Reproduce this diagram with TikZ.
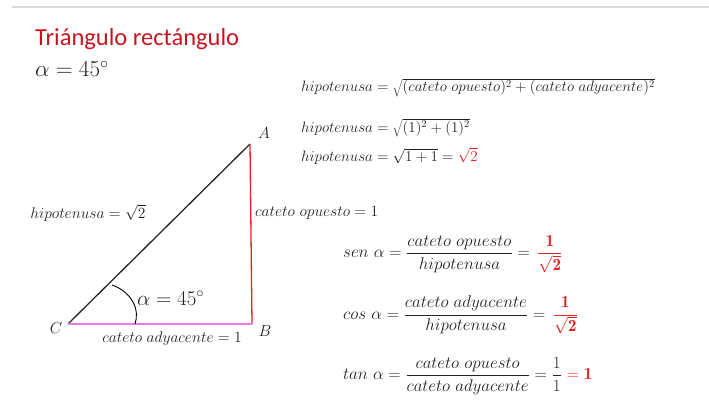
\RequirePackage{fix-cm}
\documentclass[tikz,border=0pt]{standalone}
\usepackage{fontspec}
\newfontfamily\titulofont{Carlito}
\usetikzlibrary{positioning}
\definecolor{rojotitulo}{RGB}{200,20,30}
\definecolor{rojo}{RGB}{225,35,35}
\definecolor{rosa}{RGB}{238,120,238}
\definecolor{tinta}{RGB}{35,35,35}

\begin{document}
\begin{tikzpicture}[x=1pt,y=-1pt,
	texto/.style={inner sep=0pt,text=tinta},
	formula/.style={texto,anchor=base west,font=\fontsize{15}{17}\selectfont},
	etiqueta/.style={texto,font=\fontsize{15.5}{17}\selectfont},
	razon/.style={texto,anchor=west,font=\fontsize{17}{19}\selectfont},
	vertice/.style={texto,font=\fontsize{16}{18}\selectfont}]
	    \useasboundingbox (0,0) rectangle (709,404);
	    \draw[black!15,line width=1.5pt] (12,7) -- (709,7);
	    % titulo
	    \node(titulo) [anchor=base west,inner sep=0pt,text=rojotitulo,font=\titulofont\fontsize{24.5}{28}\selectfont] at (35,46) {Triángulo rectángulo};
	    \node(angulo) [texto,anchor=base west,font=\fontsize{23}{26}\selectfont] at (35,77) {$\alpha = 45^\circ$};
	    % triangulo
	    \coordinate (C) at (68,324);
	    \coordinate (B) at (252,324);
	    \coordinate (A) at (250,144);
	    \draw[black!85,line width=1.3pt] (C) -- (A);
	    \draw[rojo,line width=1.3pt] (A) -- (B);
	    \draw[rosa,line width=1.5pt] (C) -- (B);
	    \draw[black,line width=0.9pt] (112,285) .. controls (132,292) and (140,310) .. (135,324);
	    \node(nA) [vertice] at (264,133) {$A$};
	    \node(nB) [vertice] at (265,331) {$B$};
	    \node(nC) [vertice] at (56,328) {$C$};
	    \node(hip) [etiqueta] at (88,213) {$hipotenusa = \sqrt{2}$};
	    \node(op) [etiqueta,anchor=west] at (255,213) {$cateto\ opuesto = 1$};
	    \node(ady) [etiqueta] at (172,339) {$cateto\ adyacente = 1$};
	    \node(alfa) [texto,anchor=west,font=\fontsize{21}{24}\selectfont] at (137,298) {$\alpha = 45^\circ$};
	    % formulas
	    \node(f1) [formula] at (301,92) {$hipotenusa = \sqrt{(cateto\ opuesto)^2 + (cateto\ adyacente)^2}$};
	    \node(f2) [formula] at (301,132) {$hipotenusa = \sqrt{(1)^2 + (1)^2}$};
	    \node(f3) [formula] at (301,161) {$hipotenusa = \sqrt{1+1} = \textcolor{rojo}{\sqrt{2}}$};
	    \node(sen) [razon] at (343,254) {$\displaystyle sen\ \alpha = \frac{cateto\ opuesto}{hipotenusa} = \,\textcolor{rojo}{\frac{\mathbf{1}}{\sqrt{\mathbf{2}}}}$};
	    \node(cos) [razon] at (343,315) {$\displaystyle cos\ \alpha = \frac{cateto\ adyacente}{hipotenusa} = \,\textcolor{rojo}{\frac{\mathbf{1}}{\sqrt{\mathbf{2}}}}$};
	    \node(tan) [razon] at (343,376) {$\displaystyle tan\ \alpha = \frac{cateto\ opuesto}{cateto\ adyacente} = \frac{1}{1}\ \textcolor{rojo}{\mathbf{=1}}$};
	  \end{tikzpicture}
\end{document}
